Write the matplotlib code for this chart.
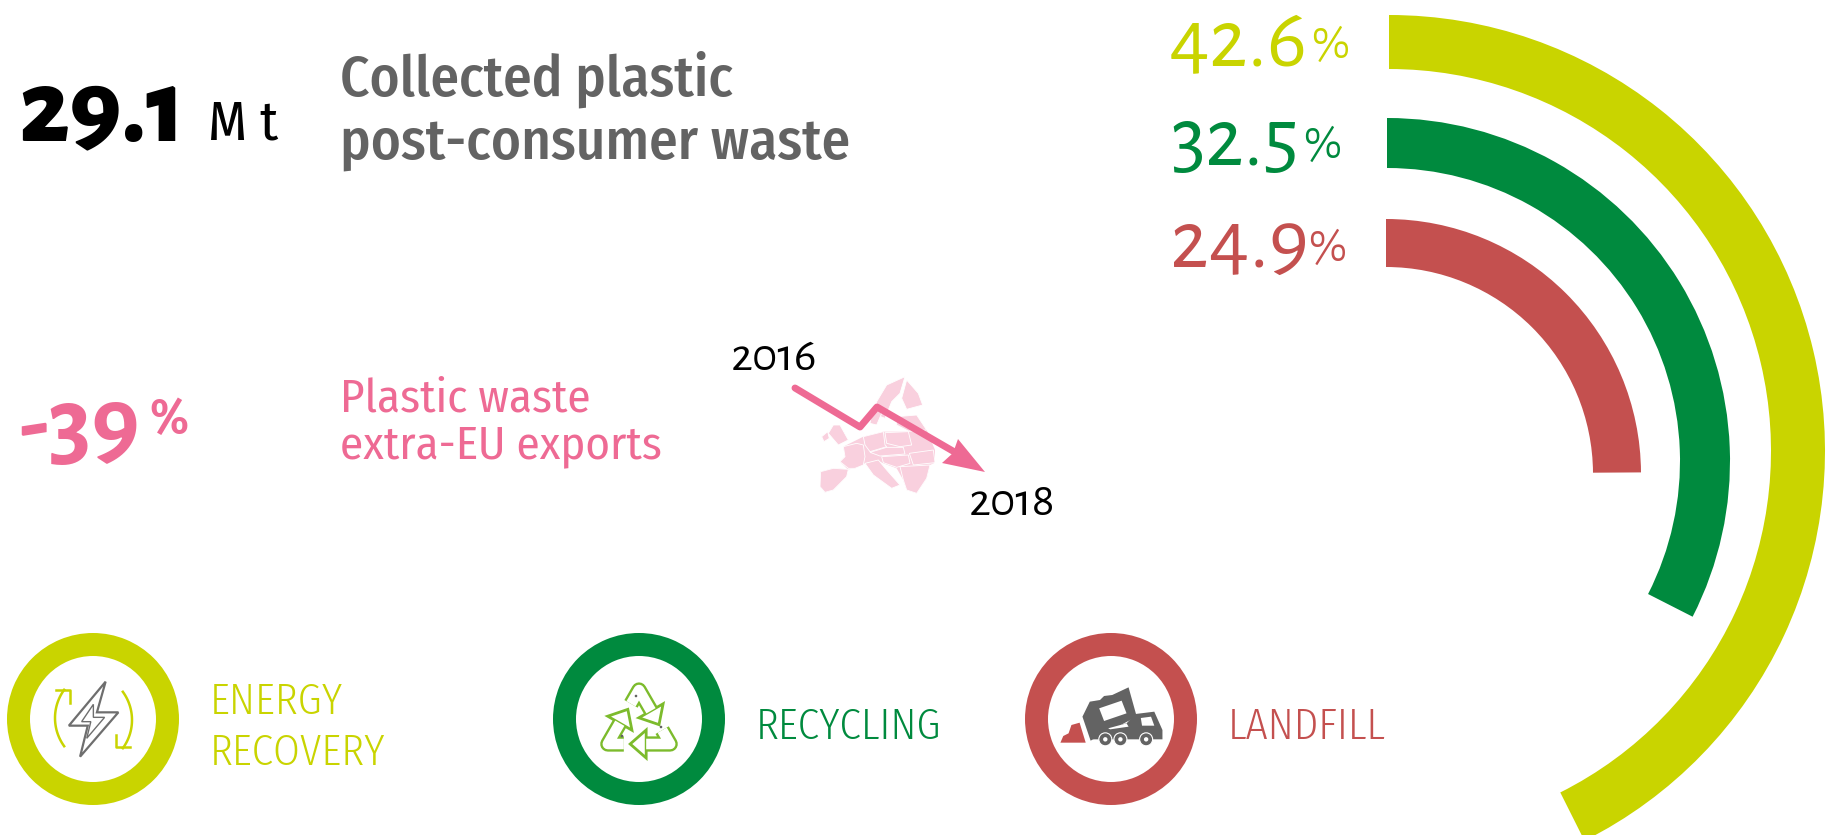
import numpy as np
import matplotlib
matplotlib.use("Agg")
import matplotlib.pyplot as plt
from matplotlib.patches import Wedge, Circle, Polygon
import logging
logging.getLogger("matplotlib.font_manager").setLevel(logging.ERROR)

# -----------------------------------------------------------
# Data
# -----------------------------------------------------------
categorias = ["ENERGY\nRECOVERY", "RECYCLING", "LANDFILL"]
percentuais = [42.6, 32.5, 24.9]
total_mt = "29.1"
queda_exportacao = "-39"
anos = ["2016", "2018"]

AMARELO = "#C9D400"
VERDE = "#008A3E"
VERMELHO = "#C4504F"
ROSA = "#EE6A94"
ROSA_MAPA = "#F9D0DE"
CINZA = "#636363"
VERDE_ICONE = "#7CBB2C"

CORES = [AMARELO, VERDE, VERMELHO]

OLD = ["Alegreya Sans", "Merriweather Sans", "Open Sans"]
COND = ["Fira Sans Condensed", "Liberation Sans Narrow", "Open Sans"]

# pixel coordinates, y going down
fig = plt.figure(figsize=(18.26, 8.35), dpi=100)
ax = fig.add_axes([0, 0, 1, 1])
ax.set_xlim(0, 1826)
ax.set_ylim(835, 0)
ax.axis("off")


def px(size):
    # font size in pixels -> points
    return size * 72 / 100


def texto(x, y, s, size, color, family=COND, weight="normal", **kw):
    kw.setdefault("va", "baseline")
    return ax.text(x, y, s, fontsize=px(size), color=color, family=family,
                   weight=weight, **kw)


# -----------------------------------------------------------
# Arcs: the sweep of each one comes from its percentage
# -----------------------------------------------------------
centros = [(1389, 451), (1387, 461), (1386, 474)]
raios_ext = [436, 343, 255]
raios_int = [382, 293, 207]
for pct, cor, c, re, ri in zip(percentuais, CORES, centros, raios_ext, raios_int):
    ax.add_patch(Wedge(c, re, -90, -90 + 360 * pct / 100, width=re - ri,
                       facecolor=cor, edgecolor="none"))

# percentage labels
xs_pct = [1169, 1170, 1170]
ys_pct = [65, 165, 267]
xs_sinal = [1311, 1303, 1308]
ys_sinal = [58, 158, 261]
for pct, cor, x, y, xs, ys in zip(percentuais, CORES, xs_pct, ys_pct, xs_sinal, ys_sinal):
    texto(x, y, f"{pct:.1f}", 85, cor, family=OLD, weight=400)
    texto(xs, ys, "%", 46, cor, family=OLD, weight=400)

# -----------------------------------------------------------
# Headline texts
# -----------------------------------------------------------
texto(18, 140, total_mt, 107, "black", family=OLD, weight=800)
texto(208, 140, "M t", 55, "black", weight=400)
texto(340, 95, "Collected plastic", 57, CINZA, weight=500)
texto(340, 159, "post-consumer waste", 57, CINZA, weight=500)

texto(18, 455, queda_exportacao, 100, ROSA, family=OLD, weight=700)
texto(149, 433, "%", 50, ROSA, weight=600)
texto(340, 411, "Plastic waste", 47, ROSA, weight=400)
texto(340, 458, "extra-EU exports", 47, ROSA, weight=400)

# -----------------------------------------------------------
# Map of Europe (rough shapes), arrow and years
# -----------------------------------------------------------
base_mapa = [(430, 350), (490, 320), (550, 305), (625, 305), (680, 300), (705, 360), (705, 398),
             (690, 405), (680, 445), (650, 490), (620, 480), (610, 450), (590, 415), (550, 400),
             (535, 392), (495, 400), (465, 415), (445, 418), (400, 415), (362, 425), (360, 470),
             (375, 487), (400, 480), (420, 460), (445, 420), (420, 395), (435, 380)]
pecas_mapa = [
    [(362, 425), (400, 415), (445, 418), (440, 440), (420, 460), (400, 480), (375, 487), (360, 470)],
    [(430, 350), (470, 340), (490, 345), (495, 380), (490, 405), (465, 415), (445, 415), (420, 395), (435, 380)],
    [(490, 320), (550, 305), (555, 345), (560, 350), (510, 365), (495, 345)],
    [(555, 308), (625, 305), (635, 345), (600, 350), (560, 340)],
    [(510, 367), (560, 352), (610, 352), (615, 372), (540, 378)],
    [(545, 380), (625, 375), (630, 400), (590, 412), (550, 398)],
    [(628, 370), (700, 360), (705, 398), (640, 405)],
    [(600, 410), (690, 405), (680, 445), (650, 490), (620, 480), (610, 450)],
    [(495, 400), (535, 390), (560, 420), (600, 465), (575, 475), (520, 435)],
    [(530, 215), (560, 165), (615, 140), (600, 190), (575, 215), (555, 265), (530, 255)],
    [(620, 150), (655, 190), (668, 225), (620, 238), (605, 205)],
    [(590, 260), (650, 255), (680, 300), (625, 303), (590, 285)],
    [(520, 225), (545, 250), (530, 285), (510, 280)],
    [(385, 310), (400, 285), (420, 285), (445, 330), (415, 345)],
    [(365, 320), (383, 305), (388, 325), (372, 335)],
]
ax.add_patch(Polygon([(700 + u / 3, 330 + v / 3) for u, v in base_mapa], closed=True,
                     facecolor=ROSA_MAPA, edgecolor="none"))
for p in pecas_mapa:
    pts = [(700 + u / 3, 330 + v / 3) for u, v in p]
    ax.add_patch(Polygon(pts, closed=True, facecolor=ROSA_MAPA, edgecolor="white", linewidth=0.6))

seta_x = [795, 860, 877, 958]
seta_y = [388, 427, 407, 454]
ax.plot(seta_x, seta_y, color=ROSA, linewidth=5, solid_capstyle="round", solid_joinstyle="round")
ax.add_patch(Polygon([(985, 472), (958, 439), (953, 453), (942, 463)], closed=True,
                     facecolor=ROSA, edgecolor="none"))

texto(731, 370, anos[0], 48, "black", family=OLD, weight=400)
texto(969, 515, anos[1], 48, "black", family=OLD, weight=400)

# -----------------------------------------------------------
# Legend rings
# -----------------------------------------------------------
centros_leg = [(93, 719), (639, 719), (1111, 719)]
for c, cor in zip(centros_leg, CORES):
    ax.add_patch(Wedge(c, 86, 0, 360, width=23, facecolor=cor, edgecolor="none"))

texto(210, 714, "ENERGY", 43, AMARELO, weight=300)
texto(210, 765, "RECOVERY", 43, AMARELO, weight=300)
texto(756, 739, categorias[1], 43, VERDE, weight=300)
texto(1228, 739, categorias[2], 43, VERMELHO, weight=300)


# icon 1: bolt with two curved arrows
def z1(u, v):
    return (u / 1.96, 610 + v / 3)


raio = [(207, 215), (135, 347), (172, 347), (157, 440), (232, 307), (190, 307)]
ax.add_patch(Polygon([z1(*p) for p in raio], closed=True, facecolor="white",
                     edgecolor="#6E6E6E", linewidth=1.6))
raio2 = [(183, 283), (160, 335), (178, 335), (170, 385), (205, 322), (183, 322)]
ax.add_patch(Polygon([z1(*p) for p in raio2], closed=True, facecolor="none",
                     edgecolor="#6E6E6E", linewidth=1.0))
ang = np.radians(np.linspace(144, 216, 30))
ax.plot(103 + 48 * np.cos(ang), 718 - 48 * np.sin(ang), color=AMARELO, linewidth=1.8)
ang = np.radians(np.linspace(-36, 36, 30))
ax.plot(84 + 48 * np.cos(ang), 720 - 48 * np.sin(ang), color=AMARELO, linewidth=1.8)
ax.plot([56, 70, 70], [690, 690, 703], color=AMARELO, linewidth=1.8)
ax.plot([116, 116, 130], [735, 747, 747], color=AMARELO, linewidth=1.8)

# icon 2: recycling, one bent arrow turned three times
R_ICONE = 36
centro_rec = np.array([639, 726])
for g in [0, 120, 240]:
    def gira(a):
        t = np.radians(a + g - 90)
        return centro_rec + R_ICONE * np.array([np.cos(t), np.sin(t)])
    v0, v_ant, v_prox = gira(0), gira(-120), gira(120)
    d_ant = (v_ant - v0) / np.linalg.norm(v_ant - v0)
    d_prox = (v_prox - v0) / np.linalg.norm(v_prox - v0)
    linha = np.array([v0 + 16 * d_ant, v0, v0 + 24 * d_prox])
    normal = np.array([-d_prox[1], d_prox[0]])
    ax.plot(linha[:, 0], linha[:, 1], color=VERDE_ICONE, linewidth=11,
            solid_capstyle="butt", solid_joinstyle="round")
    base = v0 + 24 * d_prox
    cabeca = [base + 14 * normal, base + 16 * d_prox, base - 14 * normal]
    ax.add_patch(Polygon(cabeca, closed=True, facecolor="white", edgecolor=VERDE_ICONE,
                         linewidth=2.0, zorder=3))
    ax.plot(linha[:, 0], linha[:, 1], color="white", linewidth=7.6, zorder=4,
            solid_capstyle="butt", solid_joinstyle="round")
for x0, y0 in [(636, 696), (661, 727), (622, 736)]:
    ax.add_patch(Circle((x0, y0), 1.3, facecolor=CINZA, edgecolor="none", zorder=5))


# icon 3: tipping truck and pile
def z2(u, v):
    return (800 + u / 2.45, 610 + v / 3)


corpo = [(710, 275), (735, 270), (745, 258), (765, 255), (805, 232), (825, 320), (712, 392), (692, 320)]
ax.add_patch(Polygon([z2(*p) for p in corpo], closed=True, facecolor=CINZA, edgecolor="none"))
cabine = [(822, 312), (868, 305), (888, 360), (888, 388), (718, 388), (740, 355), (800, 340)]
ax.add_patch(Polygon([z2(*p) for p in cabine], closed=True, facecolor=CINZA, edgecolor="none"))
janela = [(733, 295), (788, 272), (800, 310), (745, 333)]
ax.add_patch(Polygon([z2(*p) for p in janela], closed=True, facecolor="white", edgecolor="none"))
janela2 = [(835, 324), (860, 320), (868, 347), (838, 347)]
ax.add_patch(Polygon([z2(*p) for p in janela2], closed=True, facecolor="white", edgecolor="none"))
faixa = [(755, 355), (800, 340), (805, 350), (760, 358)]
ax.add_patch(Polygon([z2(*p) for p in faixa], closed=True, facecolor="white", edgecolor="none"))
for u in [748, 785, 848]:
    x0, y0 = z2(u, 388)
    ax.add_patch(Circle((x0, y0), 6.5, facecolor=CINZA, edgecolor="white", linewidth=0.8))
    ax.add_patch(Circle((x0, y0), 2.2, facecolor="white", edgecolor="none"))
monte = [(638, 398), (700, 398), (685, 338), (665, 345), (658, 370), (645, 378)]
ax.add_patch(Polygon([z2(*p) for p in monte], closed=True, facecolor=VERMELHO, edgecolor="none"))

plt.savefig("out.png", dpi=100)
plt.close()
